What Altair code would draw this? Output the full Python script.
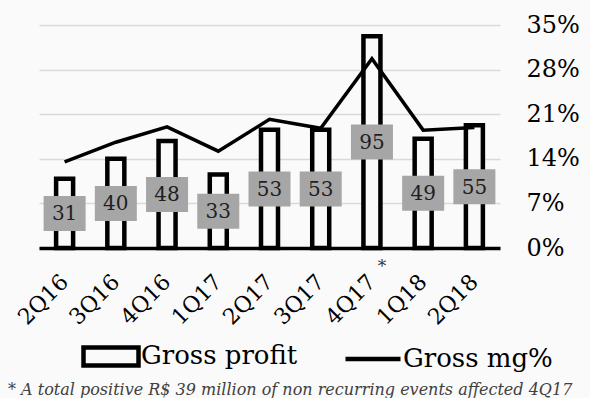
import altair as alt
import pandas as pd

# Quarterly gross profit (R$ million) and gross margin
quarters = ["2Q16", "3Q16", "4Q16", "1Q17", "2Q17", "3Q17", "4Q17", "1Q18", "2Q18"]
gross_profit = [31, 40, 48, 33, 53, 53, 95, 49, 55]
gross_margin = [0.135, 0.166, 0.190, 0.152, 0.202, 0.188, 0.297, 0.185, 0.189]
pct_ticks = [0, 0.07, 0.14, 0.21, 0.28, 0.35]
series_names = ["Gross profit", "Gross mg%"]
footnote = "* A total positive R$ 39 million of non recurring events affected 4Q17"

FONT = "DejaVu Serif"
BG = "#fafafa"

df = pd.DataFrame({"quarter": quarters, "gp": gross_profit, "mg": gross_margin})
df["mid"] = df["gp"] / 2

x_enc = alt.X(
    "quarter:N",
    sort=quarters,
    scale=alt.Scale(paddingInner=0.4, paddingOuter=0.2),
    axis=alt.Axis(
        title=None, labelAngle=-45, labelAlign="right", labelBaseline="middle",
        labelFont=FONT, labelFontSize=22, labelColor="black", labelPadding=30,
        ticks=False, domainColor="black", domainWidth=3.5,
    ),
)
gp_scale = alt.Scale(domain=[0, 100])

bars = alt.Chart(df).mark_bar(
    size=17, fill=BG, stroke="black", strokeWidth=4.5
).encode(
    x=x_enc,
    y=alt.Y("gp:Q", scale=gp_scale, axis=None),
)

line = alt.Chart(df).mark_line(color="black", strokeWidth=3.5).encode(
    x=alt.X("quarter:N", sort=quarters),
    y=alt.Y(
        "mg:Q",
        scale=alt.Scale(domain=[0, 0.35]),
        axis=alt.Axis(
            orient="right", title=None, values=pct_ticks, format=".0%",
            labelFont=FONT, labelFontSize=24, labelColor="black",
            labelPadding=26, ticks=False, domain=False,
            grid=True, gridColor="#d9d9d9", gridWidth=1.5,
        ),
    ),
)

box_path = "M-1,-0.833L1,-0.833L1,0.833L-1,0.833Z"
boxes = alt.Chart(df).mark_point(
    shape=box_path, size=1764, filled=True, color="#a6a6a6", opacity=1
).encode(
    x=alt.X("quarter:N", sort=quarters),
    y=alt.Y("mid:Q", scale=gp_scale, axis=None),
)

values = alt.Chart(df).mark_text(
    font=FONT, fontSize=20, color="#1f1f1f", baseline="middle", dy=1
).encode(
    x=alt.X("quarter:N", sort=quarters),
    y=alt.Y("mid:Q", scale=gp_scale, axis=None),
    text=alt.Text("gp:Q"),
)

star = alt.Chart(pd.DataFrame({"quarter": ["4Q17"], "mark": ["*"]})).mark_text(
    font=FONT, fontSize=17, color="#333333", dx=10
).encode(
    x=alt.X("quarter:N", sort=quarters),
    y=alt.value(242),
    text="mark:N",
)

note = alt.Chart(pd.DataFrame({"t": [footnote]})).mark_text(
    font=FONT, fontSize=16, fontStyle="italic", color="#404040",
    align="left", baseline="middle",
).encode(x=alt.value(-31), y=alt.value(365), text="t:N")

# Legend-only layer: custom symbols for the bar outline and the line
legend_layer = alt.Chart(df).transform_filter("false").mark_point(
    filled=False, stroke="black"
).encode(
    x=alt.X("quarter:N", sort=quarters),
    y=alt.Y("gp:Q", scale=gp_scale, axis=None),
    shape=alt.Shape(
        "series:N",
        scale=alt.Scale(
            domain=series_names,
            range=["M-1,-0.33L1,-0.33L1,0.33L-1,0.33Z", "M-1,0L1,0"],
        ),
        legend=alt.Legend(
            title=None, orient="none", direction="horizontal",
            legendX=42, legendY=301, padding=0,
            symbolSize=3025, symbolStrokeColor="black", symbolFillColor="white",
            symbolStrokeWidth=4.5, symbolOpacity=1,
            labelFont=FONT, labelFontSize=26, labelColor="black",
            labelOffset=0, columnPadding=38, labelLimit=400,
        ),
    ),
)

chart = alt.layer(
    bars, line, boxes, values, star, note, legend_layer
).resolve_scale(
    y="independent"
).properties(
    width=461, height=223,
    autosize=alt.AutoSizeParams(type="none"),
    padding={"left": 39, "top": 25, "right": 90, "bottom": 150},
    background=BG,
).configure_view(stroke=None)

chart.save("out.html", embed_options={"renderer": "svg", "actions": False})
